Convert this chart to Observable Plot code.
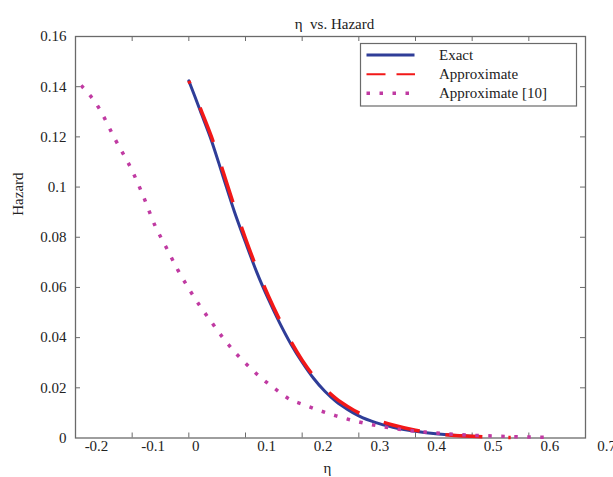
<!DOCTYPE html>
<html><head><meta charset="utf-8">
<script src="https://cdn.jsdelivr.net/npm/d3@7"></script>
<script src="https://cdn.jsdelivr.net/npm/@observablehq/plot@0.6"></script>
<style>body{margin:0;background:#fff;} #chart{width:613px;height:477px;}</style>
</head><body><div id="chart"></div>
<script>
// ---- data ----
const title = "\u03b7\u2002vs. Hazard";
const xLabel = "\u03b7";
const yLabel = "Hazard";
const seriesNames = ["Exact", "Approximate", "Approximate [10]"];

const exactEta    = [0, 0.01, 0.02, 0.04, 0.06, 0.08, 0.10, 0.12, 0.14, 0.16, 0.18, 0.20, 0.22, 0.24, 0.26, 0.28, 0.30, 0.33, 0.36, 0.40, 0.44, 0.50];
const exactHazard = [0.1423, 0.1365, 0.1305, 0.1185, 0.1045, 0.0905, 0.0780, 0.0660, 0.0555, 0.0460, 0.0375, 0.0302, 0.0238, 0.0186, 0.0145, 0.0114, 0.0088, 0.0061, 0.0043, 0.0027, 0.0016, 0.0007];

const approxEta    = [0, 0.02, 0.04, 0.06, 0.08, 0.10, 0.12, 0.14, 0.16, 0.18, 0.20, 0.22, 0.24, 0.26, 0.28, 0.30, 0.33, 0.36, 0.40, 0.45, 0.50, 0.568];
const approxHazard = [0.1423, 0.1315, 0.1200, 0.1065, 0.0925, 0.0795, 0.0675, 0.0568, 0.0472, 0.0385, 0.0310, 0.0248, 0.0197, 0.0157, 0.0126, 0.0100, 0.0073, 0.0052, 0.0031, 0.0014, 0.0007, 0.0002];

const ref10Eta    = [-0.19, -0.16, -0.13, -0.10, -0.08, -0.06, -0.04, -0.02, 0, 0.02, 0.04, 0.06, 0.08, 0.10, 0.13, 0.15, 0.18, 0.20, 0.23, 0.26, 0.30, 0.34, 0.38, 0.42, 0.46, 0.50, 0.55, 0.60, 0.635];
const ref10Hazard = [0.1405, 0.1320, 0.1190, 0.1065, 0.0962, 0.0848, 0.0760, 0.0672, 0.0595, 0.0525, 0.0462, 0.0400, 0.0345, 0.0298, 0.0235, 0.0200, 0.0152, 0.0135, 0.0110, 0.0088, 0.0064, 0.0046, 0.0032, 0.0023, 0.0016, 0.0011, 0.0007, 0.0004, 0.0003];

const xTicks = [-0.2, -0.1, 0, 0.1, 0.2, 0.3, 0.4, 0.5, 0.6, 0.7];
const xTickLabels = ["-0.2", "-0.1", "0", "0.1", "0.2", "0.3", "0.4", "0.5", "0.6", "0.7"];
const yTicks = [0, 0.02, 0.04, 0.06, 0.08, 0.10, 0.12, 0.14, 0.16];
const yTickLabels = ["0", "0.02", "0.04", "0.06", "0.08", "0.1", "0.12", "0.14", "0.16"];

// ---- build ----
const zip = (xs, ys) => xs.map((x, i) => ({eta: x, hazard: ys[i]}));
const exact = zip(exactEta, exactHazard);
const approx = zip(approxEta, approxHazard);
const ref10 = zip(ref10Eta, ref10Hazard);

const W = 613, H = 477, mL = 75, mR = 28, mT = 36, mB = 39.5;
const fw = W - mL - mR, fh = H - mT - mB;
const font = "'Liberation Serif','Times New Roman',serif";
const blue = "#2f3d98", red = "#f21818", magenta = "#c03aa2", axisColor = "#6a6a6a", textColor = "#222";

const plot = Plot.plot({
  width: W, height: H,
  marginLeft: mL, marginRight: mR, marginTop: mT, marginBottom: mB,
  style: {fontFamily: font, fontSize: "15px", background: "#fff", color: textColor, overflow: "visible"},
  x: {domain: [xTicks[0], xTicks[xTicks.length - 1]], axis: null},
  y: {domain: [yTicks[0], yTicks[yTicks.length - 1]], axis: null},
  marks: [
    Plot.tickX(xTicks.slice(1, -1), {x: d => d, stroke: axisColor, insetTop: fh - 5}),
    Plot.tickX(xTicks.slice(1, -1), {x: d => d, stroke: axisColor, insetBottom: fh - 5}),
    Plot.tickY(yTicks.slice(1, -1), {y: d => d, stroke: axisColor, insetRight: fw - 5}),
    Plot.tickY(yTicks.slice(1, -1), {y: d => d, stroke: axisColor, insetLeft: fw - 5}),
    Plot.frame({stroke: axisColor, strokeWidth: 1.3}),
    Plot.line(exact, {x: "eta", y: "hazard", stroke: blue, strokeWidth: 3, curve: "monotone-x"}),
    Plot.line(approx, {x: "eta", y: "hazard", stroke: red, strokeWidth: 3.5, curve: "monotone-x",
      strokeLinecap: "butt", strokeDasharray: "37,26", strokeDashoffset: 34}),
    Plot.line(ref10, {x: "eta", y: "hazard", stroke: magenta, strokeWidth: 3.5, curve: "monotone-x",
      strokeLinecap: "butt", strokeDasharray: "3.5,9.5"}),
    Plot.text(xTicks, {x: d => d, text: (d, i) => xTickLabels[i], filter: d => d !== 0,
      frameAnchor: "bottom", dy: 13, dx: 21, fill: textColor}),
    Plot.text(xTicks, {x: d => d, text: (d, i) => xTickLabels[i], filter: d => d === 0,
      frameAnchor: "bottom", dy: 13, dx: 7, fill: textColor}),
    Plot.text(yTicks, {y: d => d, text: (d, i) => yTickLabels[i], frameAnchor: "left",
      dx: -9, textAnchor: "end", fill: textColor}),
    Plot.text([title], {text: d => d, frameAnchor: "top", dy: -18, dx: 4, fill: textColor}),
    Plot.text([xLabel], {text: d => d, frameAnchor: "bottom", dy: 34.5, dx: -3, fill: textColor}),
    Plot.text([yLabel], {text: d => d, frameAnchor: "left", rotate: -90, dx: -57, dy: -21.5, fill: textColor})
  ]
});

// legend
const svg = d3.select(plot);
const lg = svg.append("g").attr("font-family", font).attr("font-size", 15).attr("fill", textColor)
  .attr("text-anchor", "start");
lg.append("rect").attr("x", 360.5).attr("y", 43.5).attr("width", 216).attr("height", 62.5)
  .attr("fill", "#fff").attr("stroke", axisColor).attr("stroke-width", 1.2);
const rows = [
  {name: seriesNames[0], y: 55, stroke: blue, width: 3, dash: null, x2: 414.5},
  {name: seriesNames[1], y: 74.3, stroke: red, width: 2, dash: "19,11", x2: 415},
  {name: seriesNames[2], y: 93.3, stroke: magenta, width: 3.5, dash: "3.5,9.5", x2: 410}
];
rows.forEach(r => {
  lg.append("line").attr("x1", 366.5).attr("x2", r.x2)
    .attr("y1", r.y).attr("y2", r.y).attr("stroke", r.stroke).attr("stroke-width", r.width)
    .attr("stroke-dasharray", r.dash);
  lg.append("text").attr("x", 439).attr("y", r.y).attr("dy", "0.32em")
    .attr("text-anchor", "start").text(r.name);
});

document.getElementById("chart").appendChild(plot);
</script>
</body></html>
